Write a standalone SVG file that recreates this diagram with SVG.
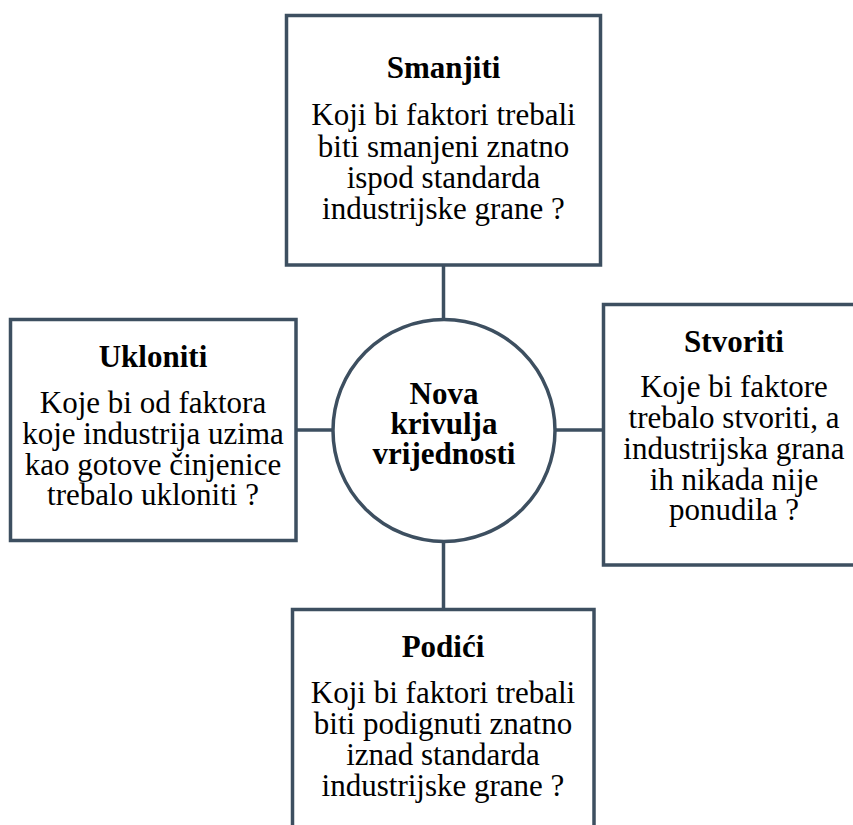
<svg xmlns="http://www.w3.org/2000/svg" width="853" height="825" viewBox="0 0 853 825">
<style>
.box{fill:#fff;stroke:#3d4f60;stroke-width:3.5}
.ln{stroke:#3d4f60;stroke-width:3.5;fill:none}
text{font-family:"Liberation Serif","Times New Roman",serif;font-size:31px;fill:#000;text-anchor:middle}
.t{font-weight:bold}
</style>
<rect width="853" height="825" fill="#fff"/>
<g id="connectors">
<line class="ln" x1="443.5" y1="265" x2="443.5" y2="319"/>
<line class="ln" x1="443.5" y1="541" x2="443.5" y2="609"/>
<line class="ln" x1="296" y1="430" x2="333" y2="430"/>
<line class="ln" x1="555" y1="430" x2="603" y2="430"/>
</g>
<g id="smanjiti">
<rect class="box" x="286.5" y="15.5" width="314" height="249.5"/>
<text class="t" x="443.5" y="78">Smanjiti</text>
<text x="443.5" y="125">Koji bi faktori trebali</text>
<text x="443.5" y="156.5">biti smanjeni znatno</text>
<text x="443.5" y="188">ispod standarda</text>
<text x="443.5" y="219">industrijske grane ?</text>
</g>
<g id="ukloniti">
<rect class="box" x="10.5" y="319.5" width="285.5" height="221"/>
<text class="t" x="153" y="367">Ukloniti</text>
<text x="153" y="413">Koje bi od faktora</text>
<text x="153" y="444">koje industrija uzima</text>
<text x="153" y="475">kao gotove činjenice</text>
<text x="153" y="505">trebalo ukloniti ?</text>
</g>
<g id="stvoriti">
<rect class="box" x="603.5" y="304.5" width="263" height="260.5"/>
<text class="t" x="734" y="352">Stvoriti</text>
<text x="734" y="397">Koje bi faktore</text>
<text x="734" y="428">trebalo stvoriti, a</text>
<text x="734" y="459">industrijska grana</text>
<text x="734" y="490">ih nikada nije</text>
<text x="734" y="520">ponudila ?</text>
</g>
<g id="podici">
<rect class="box" x="292.5" y="609.5" width="301.5" height="240"/>
<text class="t" x="443" y="657">Podići</text>
<text x="443" y="703">Koji bi faktori trebali</text>
<text x="443" y="734">biti podignuti znatno</text>
<text x="443" y="765">iznad standarda</text>
<text x="443" y="796">industrijske grane ?</text>
</g>
<g id="center">
<circle class="box" cx="444" cy="430.5" r="111"/>
<text class="t" x="444" y="404">Nova</text>
<text class="t" x="444" y="434">krivulja</text>
<text class="t" x="444" y="464">vrijednosti</text>
</g>
</svg>
